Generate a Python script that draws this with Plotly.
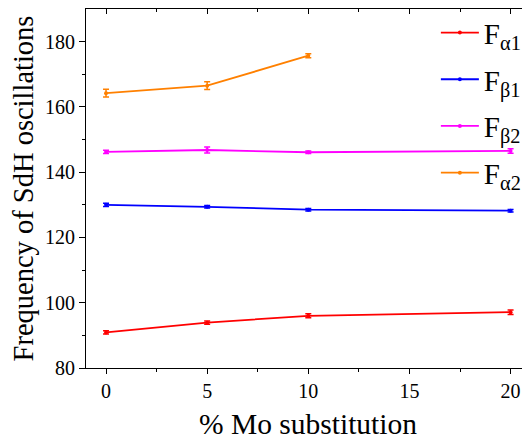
import plotly.graph_objects as go

mo_pct = [0, 5, 10, 20]
mo_pct_a2 = [0, 5, 10]

f_alpha1 = [90.9, 93.9, 96.0, 97.1]
f_alpha1_err = [0.5, 0.5, 0.6, 0.7]
f_beta1 = [130.0, 129.4, 128.5, 128.2]
f_beta1_err = [0.5, 0.4, 0.4, 0.4]
f_beta2 = [146.2, 146.8, 146.1, 146.5]
f_beta2_err = [0.5, 0.9, 0.4, 0.7]
f_alpha2 = [164.2, 166.5, 175.7]
f_alpha2_err = [1.2, 1.2, 0.6]

FONT = "Liberation Serif"

series = [
    ("F<sub>α1</sub>", mo_pct, f_alpha1, f_alpha1_err, "#ff0000"),
    ("F<sub>β1</sub>", mo_pct, f_beta1, f_beta1_err, "#0000ff"),
    ("F<sub>β2</sub>", mo_pct, f_beta2, f_beta2_err, "#ff00ff"),
    ("F<sub>α2</sub>", mo_pct_a2, f_alpha2, f_alpha2_err, "#ff8000"),
]

fig = go.Figure()
for i, (name, xs, ys, es, col) in enumerate(series):
    fig.add_trace(go.Scatter(
        x=xs, y=ys, name=name, mode="lines+markers",
        line=dict(color=col, width=1.8),
        marker=dict(color=col, size=4),
        error_y=dict(type="data", array=es, visible=True, color=col, thickness=1.5, width=3),
        legendgroup=f"g{i}",
    ))

# dummy trace to activate mirror axes
fig.add_trace(go.Scatter(x=[None], y=[None], xaxis="x2", yaxis="y2", showlegend=False, hoverinfo="skip"))

xr = [-0.99, 20.96]
yr = [80, 190]

fig.update_layout(
    width=522, height=432,
    margin=dict(l=78, r=0, t=1, b=72, autoexpand=False),
    paper_bgcolor="white", plot_bgcolor="white",
    font=dict(family=FONT, color="black"),
    showlegend=True,
    legend=dict(
        x=0.788, y=1.005, xanchor="left", yanchor="top",
        font=dict(family=FONT, size=29, color="black"),
        bgcolor="rgba(0,0,0,0)", tracegroupgap=6, itemwidth=38,
    ),
    xaxis=dict(
        range=xr, tickmode="array", tickvals=[0, 5, 10, 15, 20], automargin=False,
        ticks="outside", ticklen=5, tickwidth=1, tickcolor="black",
        showline=True, linecolor="black", linewidth=1.2,
        showgrid=False, zeroline=False,
        tickfont=dict(family=FONT, size=20, color="black"),
        minor=dict(ticks="outside", ticklen=3, tickvals=[2.5, 7.5, 12.5, 17.5], tickcolor="black", showgrid=False),
        title=dict(text="% Mo substitution", font=dict(family=FONT, size=29.5, color="black"), standoff=18),
    ),
    yaxis=dict(
        range=yr, tickmode="array", tickvals=[80, 100, 120, 140, 160, 180], automargin=False,
        ticks="outside", ticklen=6, tickwidth=1, tickcolor="black",
        showline=True, linecolor="black", linewidth=1.2,
        showgrid=False, zeroline=False,
        tickfont=dict(family=FONT, size=20, color="black"),
        minor=dict(ticks="outside", ticklen=3, tickvals=[90, 110, 130, 150, 170], tickcolor="black", showgrid=False),
        title=dict(text="Frequency of SdH oscillations", font=dict(family=FONT, size=28.5, color="black"), standoff=3),
    ),
    xaxis2=dict(
        overlaying="x", side="top", range=xr, tickmode="array", tickvals=[0, 5, 10, 15, 20], automargin=False,
        ticks="inside", ticklen=5, tickcolor="black", showticklabels=False,
        showline=True, linecolor="black", linewidth=1.2, showgrid=False, zeroline=False,
        minor=dict(ticks="inside", ticklen=3, tickvals=[2.5, 7.5, 12.5, 17.5], tickcolor="black", showgrid=False),
    ),
    yaxis2=dict(
        overlaying="y", side="right", range=yr, tickmode="array", tickvals=[80, 100, 120, 140, 160, 180], automargin=False,
        ticks="inside", ticklen=5, tickcolor="black", showticklabels=False,
        showline=False, showgrid=False, zeroline=False,
        minor=dict(ticks="inside", ticklen=3, tickvals=[90, 110, 130, 150, 170], tickcolor="black", showgrid=False),
    ),
)

fig.write_html("out.html")
